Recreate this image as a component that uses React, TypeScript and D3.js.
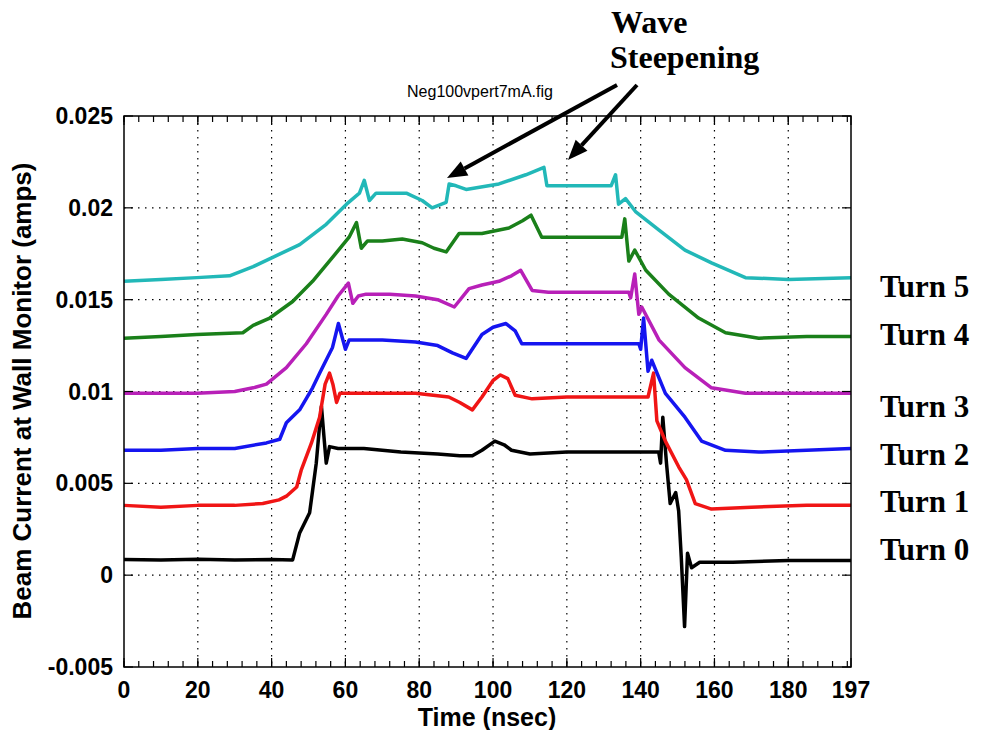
import React from "react";
import * as d3 from "d3";

const turn0: [number, number][] = [[0,0.00085],[10,0.00082],[20,0.00086],[30,0.00083],[40,0.00085],[45.7,0.00083],[47.6,0.0023],[50.3,0.0034],[51.1,0.0046],[52.1,0.0061],[52.8,0.0077],[53.5,0.0092],[54.2,0.0075],[54.8,0.0061],[55.7,0.0070],[58,0.0069],[65,0.0069],[75,0.0067],[85,0.0066],[91,0.0065],[94.4,0.0065],[97,0.0068],[100.5,0.0073],[103,0.0071],[105,0.0068],[110,0.0066],[120,0.0067],[130,0.0067],[140,0.0067],[144.9,0.0067],[145.4,0.0061],[146,0.0086],[147,0.0061],[148,0.0039],[149.5,0.0045],[150.3,0.0035],[151,0.0010],[151.9,-0.0028],[152.7,0.0012],[153.8,0.0004],[156,0.0007],[165,0.0007],[180,0.0008],[197,0.0008]];
const turn1: [number, number][] = [[0,0.0038],[10,0.0037],[20,0.0038],[30,0.0038],[37.6,0.0039],[42,0.0041],[44,0.0043],[46.8,0.0048],[48,0.0057],[50.8,0.0072],[53,0.0086],[54.5,0.0104],[55.7,0.0110],[56.6,0.0104],[57.6,0.0094],[58.5,0.0099],[60,0.0099],[70,0.0099],[79,0.0099],[88,0.0097],[91,0.0094],[94.4,0.0090],[97,0.0097],[100,0.0106],[102,0.0109],[104,0.0107],[106,0.0098],[110.6,0.0096],[120,0.0097],[130,0.0097],[142,0.0097],[143.5,0.0110],[144.4,0.0084],[146.7,0.0073],[150.3,0.0059],[152.4,0.0052],[154.8,0.0039],[159.2,0.0036],[170,0.0037],[185,0.0038],[197,0.0038]];
const turn2: [number, number][] = [[0,0.0068],[10,0.0068],[20,0.0069],[30,0.0069],[38.6,0.0072],[42.2,0.0074],[44,0.0083],[47.6,0.0090],[51.1,0.0102],[53,0.0110],[56.5,0.0124],[58.1,0.0137],[60,0.0123],[61,0.0128],[70,0.0128],[79,0.0127],[85,0.0125],[89,0.0121],[92.7,0.0118],[97,0.0131],[100,0.0135],[103.5,0.0137],[106,0.0133],[107.8,0.0126],[115,0.0126],[125,0.0126],[139.5,0.0126],[140,0.0123],[140.8,0.0140],[142,0.0111],[143,0.0117],[146.7,0.0099],[152,0.0086],[156.5,0.0073],[163,0.0068],[172,0.0067],[185,0.0068],[197,0.0069]];
const turn3: [number, number][] = [[0,0.0099],[10,0.0099],[19.7,0.0099],[30,0.0100],[35,0.0102],[38.6,0.0104],[44,0.0113],[49.4,0.0126],[54.8,0.0142],[58,0.0152],[60.8,0.0159],[62,0.0148],[63.5,0.0152],[65.6,0.0153],[72,0.0153],[79,0.0152],[85,0.0150],[89.5,0.0146],[93.5,0.0156],[97,0.0158],[101.6,0.0160],[105,0.0163],[107.5,0.0166],[110.6,0.0155],[115,0.0154],[125,0.0154],[136.8,0.0154],[137.3,0.0151],[138.4,0.0164],[139.5,0.0142],[140.3,0.0146],[145,0.0128],[152,0.0113],[159.2,0.0102],[168.4,0.0099],[180,0.0099],[197,0.0099]];
const turn4: [number, number][] = [[0,0.0129],[10,0.0130],[19.7,0.0131],[32.2,0.0132],[35,0.0136],[39.5,0.0140],[45.7,0.0149],[51.1,0.0160],[56.5,0.0173],[61,0.0184],[63,0.0192],[64.3,0.0178],[66,0.0182],[70,0.0182],[75.4,0.0183],[80.8,0.0181],[84,0.0178],[87.3,0.0176],[90.8,0.0186],[97,0.0186],[104.3,0.0189],[108,0.0193],[110.3,0.0196],[113.2,0.0184],[120,0.0184],[134.9,0.0184],[135.7,0.0194],[136.8,0.0171],[138.4,0.0177],[141.4,0.0166],[147.6,0.0153],[155.7,0.0140],[163,0.0132],[172,0.0129],[185,0.0130],[197,0.0130]];
const turn5: [number, number][] = [[0,0.0160],[10,0.0161],[19.7,0.0162],[28.6,0.0163],[35,0.0168],[40.3,0.0173],[47.6,0.0180],[54.8,0.0191],[60.3,0.0202],[63.8,0.0208],[65.1,0.0215],[66.5,0.0204],[68.3,0.0208],[76.5,0.0208],[80.8,0.0204],[83.5,0.0200],[87.3,0.0203],[88.1,0.0213],[90,0.0212],[92.7,0.0210],[101.6,0.0213],[108.9,0.0218],[113.8,0.0222],[114.6,0.0212],[120,0.0212],[132,0.0212],[133.2,0.0218],[134,0.0202],[135.9,0.0205],[138.6,0.0198],[144.9,0.0188],[152,0.0177],[159.2,0.0170],[168.4,0.0162],[180,0.0161],[197,0.0162]];

const seriesData = [turn0, turn1, turn2, turn3, turn4, turn5];
const seriesColors = ["#000000", "#F01515", "#1515F0", "#B820B8", "#1A801A", "#22B8B8"];
const turnLabels = ["Turn 0", "Turn 1", "Turn 2", "Turn 3", "Turn 4", "Turn 5"];
const turnLabelY = [560, 512, 465, 417, 345, 297];

const xTicks = [0, 20, 40, 60, 80, 100, 120, 140, 160, 180, 197];
const xMinorTicks = d3.range(0, 197, 4);
const yTicks = [-0.005, 0, 0.005, 0.01, 0.015, 0.02, 0.025];
const yTickLabels = ["-0.005", "0", "0.005", "0.01", "0.015", "0.02", "0.025"];
const xGrid = [20, 40, 60, 80, 100, 120, 140, 160, 180];
const yGrid = [0, 0.005, 0.01, 0.015, 0.02];

const L = 124, R = 851, T = 116, B = 667;

export default function App() {
  const x = d3.scaleLinear().domain([0, 197]).range([L, R]);
  const y = d3.scaleLinear().domain([-0.005, 0.025]).range([B, T]);
  const line = d3.line<[number, number]>().x(d => x(d[0])).y(d => y(d[1]));
  const arial = "'Liberation Sans', Arial, sans-serif";
  const times = "'Liberation Serif', 'Times New Roman', serif";

  const arrow = (x1: number, y1: number, x2: number, y2: number) => {
    const ang = Math.atan2(y2 - y1, x2 - x1);
    const hl = 20, hw = 8;
    const bx = x2 - hl * Math.cos(ang), by = y2 - hl * Math.sin(ang);
    const px = -Math.sin(ang) * hw, py = Math.cos(ang) * hw;
    return (
      <g>
        <line x1={x1} y1={y1} x2={bx} y2={by} stroke="#000" strokeWidth={4} />
        <polygon points={`${x2},${y2} ${bx + px},${by + py} ${bx - px},${by - py}`} fill="#000" />
      </g>
    );
  };

  return (
    <svg width={981} height={730} style={{ position: "absolute", left: 0, top: 0, background: "#fff" }}>
      <rect x={0} y={0} width={981} height={730} fill="#fff" />
      {xGrid.map(v => (
        <line key={"gx" + v} x1={x(v)} x2={x(v)} y1={T} y2={B} stroke="#000" strokeWidth={1.2} strokeDasharray="1.5 5.5" />
      ))}
      {yGrid.map(v => (
        <line key={"gy" + v} x1={L} x2={R} y1={y(v)} y2={y(v)} stroke="#000" strokeWidth={1.2} strokeDasharray="1.5 5.5" />
      ))}
      {seriesData.map((s, i) => (
        <path key={"s" + i} d={line(s) || ""} fill="none" stroke={seriesColors[i]} strokeWidth={3.5} strokeLinejoin="round" />
      ))}
      <rect x={L} y={T} width={R - L} height={B - T} fill="none" stroke="#000" strokeWidth={1.5} />
      {xMinorTicks.map(v => (
        <g key={"mx" + v}>
          <line x1={x(v)} x2={x(v)} y1={B} y2={B - 6} stroke="#000" strokeWidth={1.2} />
          <line x1={x(v)} x2={x(v)} y1={T} y2={T + 6} stroke="#000" strokeWidth={1.2} />
        </g>
      ))}
      {xTicks.map(v => (
        <g key={"tx" + v}>
          <line x1={x(v)} x2={x(v)} y1={B} y2={B - 9} stroke="#000" strokeWidth={1.2} />
          <line x1={x(v)} x2={x(v)} y1={T} y2={T + 9} stroke="#000" strokeWidth={1.2} />
          <text x={x(v)} y={698} textAnchor="middle" fontFamily={arial} fontWeight="bold" fontSize={23}>{v}</text>
        </g>
      ))}
      {yTicks.map((v, i) => (
        <g key={"ty" + v}>
          <line x1={L} x2={L + 9} y1={y(v)} y2={y(v)} stroke="#000" strokeWidth={1.2} />
          <line x1={R} x2={R - 9} y1={y(v)} y2={y(v)} stroke="#000" strokeWidth={1.2} />
          <text x={113} y={y(v) + 8} textAnchor="end" fontFamily={arial} fontWeight="bold" fontSize={23}>{yTickLabels[i]}</text>
        </g>
      ))}
      <text x={487} y={726} textAnchor="middle" fontFamily={arial} fontWeight="bold" fontSize={25}>Time (nsec)</text>
      <text transform={`translate(31,391) rotate(-90)`} textAnchor="middle" fontFamily={arial} fontWeight="bold" fontSize={26}>Beam Current at Wall Monitor (amps)</text>
      <text x={480} y={97} textAnchor="middle" fontFamily={arial} fontSize={16}>Neg100vpert7mA.fig</text>
      <text x={611} y={33} fontFamily={times} fontWeight="bold" fontSize={32}>Wave</text>
      <text x={610} y={68} fontFamily={times} fontWeight="bold" fontSize={32}>Steepening</text>
      {arrow(617, 85, 447, 178)}
      {arrow(637, 85, 568, 160)}
      {turnLabels.map((t, i) => (
        <text key={t} x={880} y={turnLabelY[i]} fontFamily={times} fontWeight="bold" fontSize={31}>{t}</text>
      ))}
    </svg>
  );
}
